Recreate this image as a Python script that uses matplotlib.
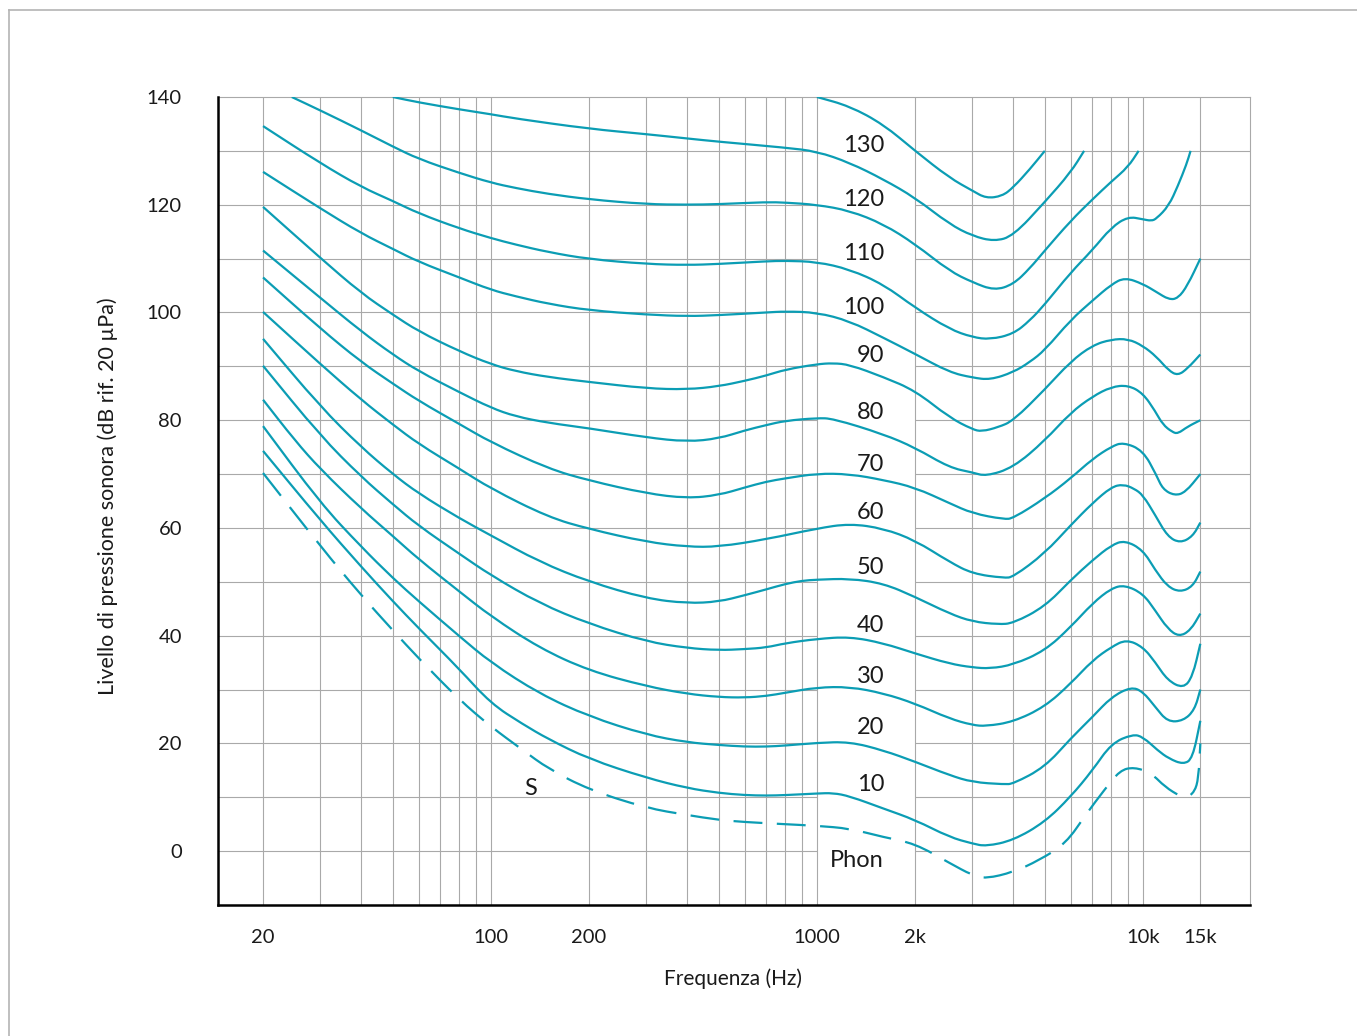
import matplotlib
matplotlib.use("Agg")
import matplotlib.pyplot as plt
import numpy as np
from matplotlib.lines import Line2D
from matplotlib.path import Path
from matplotlib.patches import PathPatch

plt.rcParams['font.family'] = ['Lato', 'DejaVu Sans']

# curve data: frequency (Hz) and level (dB)
f_s = [20, 30, 40, 50, 60, 80, 100, 125, 150, 200, 300, 400, 500, 600, 800, 1000,
       1260, 1600, 2000, 2550, 3000, 3300, 4000, 4800, 5800, 6700, 7600, 8500, 9400, 10600,
       11700, 13000, 13600, 14400, 14800, 15000]
L_s = [70.2, 56.6, 47.5, 41.0, 35.8, 28.1, 23.1, 18.8, 15.3, 11.4, 8.0, 6.7, 5.8, 5.4, 5.0, 4.7,
       4.2, 2.6, 1.4, -2.2, -4.5, -5.1, -3.9, -1.7, 1.4, 6.9, 11.3, 15.0, 15.6, 14.5,
       11.9, 10.2, 9.9, 11.0, 13.5, 20.0]

f_10 = [20, 30, 40, 50, 60, 80, 100, 125, 150, 200, 300, 400, 500, 600, 700, 800, 1000, 1120,
        1260, 1600, 2000, 2550, 3000, 3300, 4000, 5000, 6000, 7000, 8000, 9300, 10000, 11100, 12000,
        13300, 14200, 15000]
L_10 = [74.3, 61.4, 52.8, 46.4, 41.4, 33.8, 27.4, 23.6, 20.8, 17.1, 13.6, 11.7, 10.8, 10.4, 10.3, 10.4, 10.7, 10.8,
        10.2, 7.9, 5.8, 2.6, 1.4, 0.9, 2.0, 5.4, 10.1, 15.0, 20.0, 21.7, 21.2, 18.7, 17.2,
        16.1, 17.2, 24.2]

f_20 = [20, 30, 40, 50, 60, 80, 100, 141, 200, 300, 400, 500, 600, 700, 800, 1000, 1260,
        1600, 2000, 2550, 3000, 3750, 4000, 5000, 6000, 7000, 8000, 9200, 10000, 10900, 11900,
        13300, 14400, 15000]
L_20 = [78.9, 64.6, 56.5, 50.7, 46.4, 39.9, 35.0, 29.2, 25.0, 21.6, 20.2, 19.7, 19.4, 19.4, 19.6, 20.1, 20.3,
        18.7, 16.6, 14.1, 12.8, 12.4, 12.5, 15.6, 20.9, 24.9, 28.6, 30.5, 29.6, 26.8, 24.0,
        24.2, 26.2, 30.0]

f_30 = [20, 25, 30, 40, 50, 60, 80, 100, 141, 200, 300, 400, 500, 600, 700, 800, 1000, 1260,
        1600, 2000, 2550, 3000, 3300, 4000, 5000, 6000, 7000, 8000, 8900, 10000, 10900, 11900,
        13300, 14200, 15000]
L_30 = [83.8, 76.3, 70.9, 63.6, 58.5, 54.2, 48.2, 43.6, 37.7, 33.5, 30.6, 29.2, 28.6, 28.5, 28.8, 29.4, 30.4, 30.5,
        29.3, 27.4, 24.6, 23.4, 23.2, 24.0, 26.8, 31.1, 35.4, 37.9, 39.3, 37.9, 35.1, 31.7,
        30.2, 32.4, 38.5]

f_40 = [20, 30, 40, 50, 60, 80, 100, 141, 200, 300, 400, 500, 600, 700, 800, 1000, 1260,
        1600, 2000, 2550, 3000, 3400, 4000, 5000, 6000, 7000, 8000, 8800, 10000, 10900, 11900,
        12900, 14000, 15000]
L_40 = [90.1, 77.1, 69.5, 64.4, 60.4, 55.2, 51.2, 46.0, 42.2, 38.9, 37.7, 37.3, 37.5, 37.8, 38.6, 39.4, 39.8,
        38.6, 36.7, 34.8, 34.1, 33.9, 34.6, 37.2, 41.6, 46.0, 48.8, 49.4, 47.8, 44.7, 41.3,
        39.8, 41.0, 44.1]

f_50 = [20, 30, 40, 50, 60, 80, 100, 141, 200, 300, 400, 500, 600, 700, 800, 900, 1000, 1260,
        1600, 2000, 2550, 3000, 3600, 4000, 5000, 6000, 7000, 8000, 8800, 10000, 10900, 11900,
        13000, 14200, 15000]
L_50 = [95.1, 82.5, 75.0, 70.0, 66.4, 61.8, 58.6, 53.7, 50.0, 46.9, 46.0, 46.3, 47.5, 48.6, 49.6, 50.2, 50.4, 50.6,
        49.7, 47.2, 44.1, 42.6, 42.1, 42.3, 45.4, 50.3, 54.0, 56.8, 57.7, 55.9, 52.2, 49.1,
        48.1, 49.1, 51.9]

f_60 = [20, 30, 40, 50, 60, 80, 100, 150, 200, 300, 400, 500, 700, 1000, 1260,
        1600, 2000, 2550, 3000, 3750, 4000, 5000, 6000, 7000, 8000, 8700, 9400, 10000, 10900,
        11900, 13000, 14200, 15000]
L_60 = [100.1, 90.4, 83.8, 79.2, 75.6, 71.0, 67.3, 62.0, 59.8, 57.4, 56.5, 56.5, 57.9, 59.9, 60.8,
        59.9, 57.7, 53.7, 51.5, 50.7, 50.9, 55.3, 60.5, 64.6, 67.6, 68.1, 67.3, 66.1, 62.4,
        58.4, 57.2, 58.4, 61.0]

f_70 = [20, 30, 40, 50, 60, 80, 100, 150, 200, 300, 400, 500, 600, 700, 800, 1000, 1260,
        1600, 2000, 2550, 3000, 3750, 4000, 5000, 6000, 7000, 8000, 8700, 10000, 11000, 11500,
        12500, 13500, 15000]
L_70 = [106.5, 97.0, 90.8, 86.8, 83.6, 79.3, 75.9, 71.0, 68.8, 66.4, 65.5, 66.1, 67.5, 68.6, 69.2, 70.1, 70.0,
        68.9, 67.5, 64.6, 62.7, 61.6, 61.8, 65.5, 69.2, 72.8, 75.1, 75.9, 74.4, 69.8, 67.2,
        66.0, 66.6, 70.0]

f_80 = [20, 30, 40, 50, 60, 80, 100, 119, 150, 200, 300, 400, 500, 600, 700, 800, 1000, 1120,
        1600, 2000, 2550, 3000, 3300, 4000, 5000, 6000, 7000, 8000, 9000, 10000, 10900, 11500,
        12300, 12800, 13700, 15000]
L_80 = [111.5, 102.7, 96.5, 92.2, 89.1, 85.2, 82.3, 80.7, 79.5, 78.5, 76.8, 76.0, 76.6, 78.1, 79.1, 79.9, 80.4, 80.3,
        77.4, 74.9, 71.2, 70.3, 69.6, 71.2, 76.2, 81.4, 84.4, 86.2, 86.5, 85.0, 81.7, 79.2,
        77.8, 77.5, 78.8, 80.0]

f_90 = [20, 30, 40, 50, 60, 80, 100, 119, 150, 200, 300, 400, 500, 600, 700, 800, 1000, 1120,
        1260, 1600, 2000, 2550, 3000, 3200, 3600, 4000, 5000, 6000, 7000, 8000, 9000, 10000, 11000,
        12000, 12800, 13700, 15000]
L_90 = [119.6, 110.1, 103.6, 99.6, 96.5, 92.8, 90.4, 89.1, 88.0, 87.1, 85.9, 85.7, 86.3, 87.3, 88.3, 89.4, 90.4, 90.6,
        90.3, 88.0, 85.5, 80.5, 78.3, 77.9, 78.7, 79.9, 85.7, 90.9, 93.9, 95.0, 95.1, 93.8, 91.8,
        89.2, 88.3, 89.6, 92.2]

f_100 = [20, 30, 40, 50, 60, 80, 100, 119, 150, 200, 300, 400, 500, 700, 800, 1000, 1260,
         1600, 2000, 2550, 3000, 3400, 4000, 4500, 5000, 6000, 7000, 8000, 8800, 10000, 11000,
         12000, 12800, 13700, 15000]
L_100 = [126.1, 119.3, 114.7, 111.8, 109.4, 106.5, 104.2, 103.0, 101.6, 100.4, 99.6, 99.3, 99.5, 100.0, 100.2, 100.0, 98.4,
         95.3, 92.3, 88.9, 87.9, 87.5, 88.9, 90.8, 93.0, 98.6, 102.2, 105.2, 106.5, 105.3, 103.8,
         102.4, 102.6, 105.0, 110.0]

f_110 = [20, 30, 40, 50, 60, 80, 100, 119, 150, 200, 300, 400, 500, 700, 800, 1000, 1260,
         1600, 2000, 2550, 3000, 3400, 4000, 4500, 5000, 6000, 7000, 8000, 9000, 10000, 10600,
         11000, 12000, 12800, 13600, 14000]
L_110 = [134.6, 127.7, 123.3, 120.7, 118.4, 115.6, 113.8, 112.6, 111.2, 109.9, 109.0, 108.8, 109.0, 109.5, 109.6, 109.4, 108.0,
         105.2, 100.9, 96.9, 95.4, 95.0, 96.0, 98.5, 101.5, 107.4, 111.6, 115.8, 117.8, 117.3, 117.0,
         117.4, 119.8, 123.5, 127.5, 130.0]

f_120 = [24.5, 30, 40, 50, 60, 80, 100, 119, 150, 200, 300, 400, 500, 700, 800, 1000, 1260,
         1600, 2000, 2550, 3000, 3500, 4000, 4500, 5000, 6000, 7000, 8000, 9000, 9700]
L_120 = [140.0, 137.5, 133.8, 130.8, 128.5, 125.9, 124.1, 123.1, 122.0, 121.0, 120.1, 120.0, 120.1, 120.5, 120.4, 120.0, 118.9,
         116.4, 112.7, 107.7, 105.6, 104.1, 105.2, 108.2, 111.5, 117.0, 121.0, 124.3, 127.0, 130.0]

f_130 = [50, 60, 80, 100, 119, 200, 300, 400, 500, 800, 1000, 1260, 1600, 2000, 2550,
         3000, 3500, 4000, 5000, 6000, 6600]
L_130 = [140.0, 139.0, 137.7, 136.8, 136.0, 134.1, 133.1, 132.3, 131.7, 130.6, 129.9, 127.8, 124.7, 121.3, 116.4,
         114.2, 113.2, 114.2, 120.5, 126.0, 130.0]

f_140 = [1000, 1260, 1600, 2000, 2550, 3000, 3300, 3700, 4000, 4500, 5000]
L_140 = [140.0, 138.3, 134.9, 130.0, 125.0, 122.6, 121.2, 121.6, 123.2, 126.6, 130.0]

solid_f = [f_10, f_20, f_30, f_40, f_50, f_60, f_70, f_80, f_90, f_100, f_110, f_120, f_130, f_140]
solid_L = [L_10, L_20, L_30, L_40, L_50, L_60, L_70, L_80, L_90, L_100, L_110, L_120, L_130, L_140]

phon_labels = ['130', '120', '110', '100', '90', '80', '70', '60', '50', '40', '30', '20', '10']
phon_label_y = [129.8, 119.8, 109.7, 99.7, 90.8, 80.2, 70.6, 61.6, 51.4, 40.7, 31.2, 21.7, 11.1]

xtick_pos = [20, 100, 200, 1000, 2000, 10000, 15000]
xtick_lab = ['20', '100', '200', '1000', '2k', '10k', '15k']
ytick_pos = [0, 20, 40, 60, 80, 100, 120, 140]
vgrid = [20, 30, 40, 50, 60, 70, 80, 90, 100, 200, 300, 400, 500, 600, 700, 800, 900,
         1000, 2000, 3000, 4000, 5000, 6000, 7000, 8000, 9000, 10000, 15000]
hgrid = [0, 10, 20, 30, 40, 50, 60, 70, 80, 90, 100, 110, 120, 130]

teal = '#0b9db4'
gridc = '#a9a9a9'
txtc = '#1a1a1a'
xmin, xmax = 14.55, 21300


def smooth_path(fx, Ly):
    # quadratic bezier through the midpoints, the read values act as control points
    lx = np.log10(fx)
    Ly = np.asarray(Ly, float)
    verts = [(fx[0], Ly[0])]
    codes = [Path.MOVETO]
    n = len(fx)
    for i in range(1, n - 1):
        mx = 10 ** ((lx[i] + lx[i + 1]) / 2)
        my = (Ly[i] + Ly[i + 1]) / 2
        if i == 1:
            verts.append((10 ** ((lx[0] + lx[1]) / 2), (Ly[0] + Ly[1]) / 2))
            codes.append(Path.LINETO)
        verts += [(fx[i], Ly[i]), (mx, my)]
        codes += [Path.CURVE3, Path.CURVE3]
    verts.append((fx[-1], Ly[-1]))
    codes.append(Path.LINETO)
    return Path(verts, codes)


fig = plt.figure(figsize=(13.57, 10.36), dpi=100)
ax = fig.add_axes([218/1357, 131/1036, 1032/1357, 808/1036])
ax.set_xscale('log')
ax.set_xlim(xmin, xmax)
ax.set_ylim(-10, 140)

# grid (horizontal lines are left out between 1 kHz and 2 kHz, behind the labels)
for f in vgrid:
    ax.axvline(f, color=gridc, lw=0.8, zorder=1)
ax.hlines(hgrid, xmin, 1000, color=gridc, lw=0.8, zorder=1)
ax.hlines(hgrid, 2000, xmax, color=gridc, lw=0.8, zorder=1)

for fx, Ly in zip(solid_f, solid_L):
    ax.add_patch(PathPatch(smooth_path(fx, Ly), fill=False, edgecolor=teal, lw=1.6,
                           capstyle='butt', zorder=3))
ax.add_patch(PathPatch(smooth_path(f_s, L_s), fill=False, edgecolor=teal, lw=1.6,
                       linestyle=(0, (13, 6.5)), capstyle='butt', zorder=3))

for lab, yy in zip(phon_labels, phon_label_y):
    ax.text(1607, yy, lab, fontsize=17, ha='right', va='baseline', color=txtc, zorder=4)
ax.text(1607, -3.0, 'Phon', fontsize=17, ha='right', va='baseline', color=txtc, zorder=4)
ax.text(132, 10.4, 'S', fontsize=17, ha='center', va='baseline', color=txtc, zorder=4)

ax.set_xticks(xtick_pos)
ax.set_xticklabels(xtick_lab)
ax.xaxis.set_minor_locator(matplotlib.ticker.NullLocator())
ax.set_yticks(ytick_pos)
ax.tick_params(axis='both', length=0, labelsize=14.5, labelcolor=txtc)
ax.tick_params(axis='x', pad=17)
ax.tick_params(axis='y', pad=26)

for s in ['left', 'bottom']:
    ax.spines[s].set_color('black')
    ax.spines[s].set_linewidth(1.8)
    ax.spines[s].set_zorder(5)
for s in ['top', 'right']:
    ax.spines[s].set_color(gridc)
    ax.spines[s].set_linewidth(0.8)

ax.set_xlabel('Frequenza (Hz)', fontsize=15, color=txtc)
ax.xaxis.set_label_coords(0.499, -0.0916)
ax.xaxis.label.set_va('center')
ax.set_ylabel('Livello di pressione sonora (dB rif. 20 µPa)', fontsize=15.5, color=txtc)
ax.yaxis.set_label_coords(-0.1066, 0.5056)
ax.yaxis.label.set_va('center')

# thin frame around the whole picture (only top and left show)
fig.add_artist(Line2D([9/1357, 9/1357], [0, 1 - 10/1036], transform=fig.transFigure,
                      color='#b4b4b4', lw=1.2))
fig.add_artist(Line2D([9/1357, 1], [1 - 10/1036, 1 - 10/1036], transform=fig.transFigure,
                      color='#b4b4b4', lw=1.2))

fig.savefig('out.png', dpi=100)
